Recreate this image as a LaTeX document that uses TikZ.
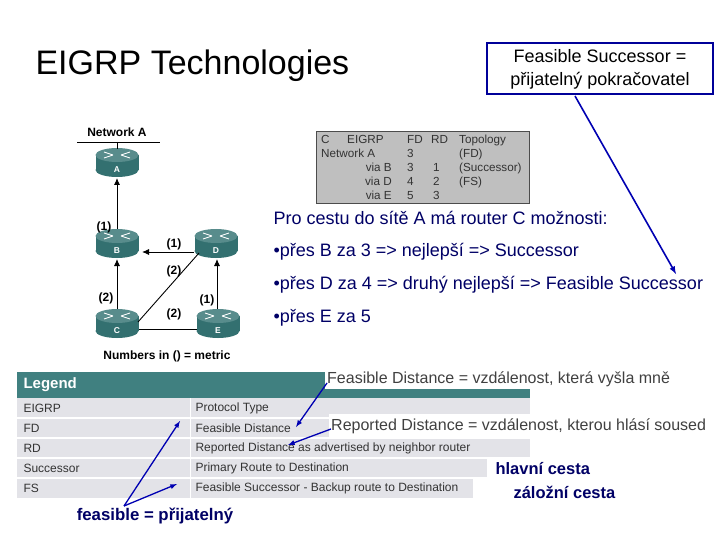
\documentclass[tikz,border=0pt]{standalone}
\usepackage{fontspec}
\usetikzlibrary{arrows.meta}
\setmainfont{Liberation Sans}
\begin{document}
\begin{tikzpicture}[x=1pt,y=-1pt,
  cell/.style={anchor=west,font=\fontsize{12}{12}\selectfont,text=black!80},
  ml/.style={font=\fontsize{12}{12}\selectfont\bfseries},
  bl/.style={draw=blue!70!black,line width=1.6pt,-latex},
  net/.style={draw=black,line width=0.9pt},
  neta/.style={net,-{Latex[length=7pt,width=6pt]}},
  ann/.style={anchor=west,fill=white,font=\fontsize{16}{17}\selectfont,text=black!75,inner sep=2pt},
  bullet/.style={anchor=west,font=\fontsize{18}{19}\selectfont,text=blue!40!black},
  tl/.style={anchor=base west},
  tr/.style={anchor=base east}]
\useasboundingbox (0,0) rectangle (720,540);
\fill[white] (0,0) rectangle (720,540);
\node[anchor=west,font=\fontsize{34}{36}\selectfont] (title) at (32,66) {EIGRP Technologies};
\node[draw=blue!60!black,line width=2pt,minimum width=226,minimum height=51,align=center,font=\fontsize{18}{23}\selectfont] (fs) at (600,69) {Feasible Successor =\\přijatelný pokračovatel};
\coordinate (fsend) at (676,274);
% network
\node[ml] (netA) at (117,132) {Network A};
\coordinate (nl) at (77,142); \coordinate (nr) at (160,142);
\draw[net] (nl) -- (nr);
\newcommand{\router}[3]{%
  \begin{scope}[shift={(#1)}]
  \fill[teal!60!black!80] (-21.5,-8) rectangle (21.5,7);
  \fill[teal!60!black!80] (0,7) ellipse (21.5 and 7);
  \fill[teal!45!gray!90] (0,-8) ellipse (21.5 and 7);
  \draw[white,line width=0.9pt] (-13,-11) -- (-4,-8) (-13,-5) -- (-4,-8) (13,-11) -- (4,-8) (13,-5) -- (4,-8);
  \node[text=white,font=\fontsize{8.5}{9}\selectfont\bfseries] at (0,7) {#2};
  \end{scope}
  \coordinate (#3) at (#1);}
\router{117,163}{A}{rA}
\router{117,244}{B}{rB}
\router{216,244}{D}{rD}
\router{117,324}{C}{rC}
\router{218,324}{E}{rE}
\coordinate (a1) at (117,142); \coordinate (a2) at (117,149);
\draw[net] (a1) -- (a2);
\coordinate (b1) at (117,229); \coordinate (b2) at (117,178);
\draw[neta] (b1) -- (b2);
\coordinate (c1) at (117,309); \coordinate (c2) at (117,259);
\draw[neta] (c1) -- (c2);
\coordinate (e1) at (217,309); \coordinate (e2) at (217,259);
\draw[neta] (e1) -- (e2);
\coordinate (d1) at (194,252); \coordinate (d2) at (142,252);
\draw[neta] (d1) -- (d2);
\coordinate (cd1) at (138,322); \coordinate (cd2) at (199,253);
\draw[net] (cd1) -- (cd2);
\coordinate (ce1) at (139,329); \coordinate (ce2) at (197,329);
\draw[net] (ce1) -- (ce2);
\node[ml] (m1) at (104,227) {(1)};
\node[ml] (m2) at (174,244) {(1)};
\node[ml] (m3) at (174,271) {(2)};
\node[ml] (m4) at (106,298) {(2)};
\node[ml] (m5) at (207,300) {(1)};
\node[ml] (m6) at (174,314) {(2)};
\node[ml] (nim) at (167,356) {Numbers in () = metric};
% topology box
\node[draw=black!70,fill=black!25,minimum width=213,minimum height=72,anchor=north west] (topo) at (316,131) {};
\begin{scope}[font=\fontsize{11.7}{12}\selectfont,text=black!80,inner sep=0pt]
\node[tl] (t1) at (321,144) {C};
\node[tl] (t2) at (347,144) {EIGRP};
\node[tl] (t3) at (407,144) {FD};
\node[tl] (t4) at (431,144) {RD};
\node[tl] (t5) at (459,144) {Topology};
\node[tl] (t6) at (321,158) {Network A};
\node[tl] (t7) at (407,158) {3};
\node[tl] (t8) at (459,158) {(FD)};
\node[tr] (t9) at (392,172) {via B};
\node[tl] (t10) at (407,172) {3};
\node[tl] (t11) at (433,172) {1};
\node[tl] (t12) at (459,172) {(Successor)};
\node[tr] (t13) at (392,186) {via D};
\node[tl] (t14) at (407,186) {4};
\node[tl] (t15) at (433,186) {2};
\node[tl] (t16) at (459,186) {(FS)};
\node[tr] (t17) at (392,200) {via E};
\node[tl] (t18) at (407,200) {5};
\node[tl] (t19) at (433,200) {3};
\end{scope}
\node[bullet] (p0) at (270,218) {Pro cestu do sítě A má router C možnosti:};
\node[bullet] (p1) at (270,252) {•přes B za 3 => nejlepší => Successor};
\node[bullet] (p2) at (270,285) {•přes D za 4 => druhý nejlepší => Feasible Successor};
\node[bullet] (p3) at (270,318) {•přes E za 5};
\coordinate (fss) at (575,96);
\draw[bl] (fss) -- (fsend);
% legend table
\fill[teal!50!gray] (17,372) rectangle (530,398);
\node[anchor=west,text=white,font=\fontsize{15}{16}\selectfont\bfseries] (lg) at (20,385) {Legend};
\fill[blue!10!gray!20] (17,398) rectangle (530,458);
\fill[blue!10!gray!20] (17,458) rectangle (487,478);
\fill[blue!10!gray!20] (17,478) rectangle (473,498);
\foreach \y in {418,438,458,478}{\draw[white,line width=1.2pt] (17,\y) -- (530,\y);}
\draw[white,line width=1pt] (190,398) -- (190,498);
\node[cell] (r1a) at (20,408) {EIGRP};
\node[cell] (r1b) at (192,408) {Protocol Type};
\node[cell] (r2a) at (20,428) {FD};
\node[cell] (r2b) at (192,428) {Feasible Distance};
\node[cell] (r3a) at (20,448) {RD};
\node[cell] (r3b) at (192,448) {Reported Distance as advertised by neighbor router};
\node[cell] (r4a) at (20,468) {Successor};
\node[cell] (r4b) at (192,468) {Primary Route to Destination};
\node[cell] (r5a) at (20,488) {FS};
\node[cell] (r5b) at (192,488) {Feasible Successor - Backup route to Destination};
\fill[white] (473,478) rectangle (720,510);
\fill[white] (487,458) rectangle (720,478);
\node[ann] (fdn) at (325,379) {Feasible Distance = vzdálenost, která vyšla mně};
\node[ann,inner ysep=4pt] (rdn) at (329,426) {Reported Distance = vzdálenost, kterou hlásí soused};
\node[bullet,font=\fontsize{16.5}{18}\selectfont\bfseries] (hc) at (492,469) {hlavní cesta};
\node[bullet,font=\fontsize{16.5}{18}\selectfont\bfseries] (zc) at (510,492) {záložní cesta};
\node[bullet,font=\fontsize{16.8}{18}\selectfont\bfseries,anchor=center] (fp) at (155,516) {feasible = přijatelný};
\coordinate (fd1) at (327,383); \coordinate (fd2) at (296,427);
\draw[bl,line width=1.3pt] (fd1) -- (fd2);
\coordinate (rd1) at (331,429); \coordinate (rd2) at (288,445);
\draw[bl,line width=1.3pt] (rd1) -- (rd2);
\coordinate (fp0) at (124,506); \coordinate (fp1) at (180,421); \coordinate (fp2) at (177,484);
\draw[bl,line width=1.3pt] (fp0) -- (fp1);
\draw[bl,line width=1.3pt] (fp0) -- (fp2);
\end{tikzpicture}
\end{document}
